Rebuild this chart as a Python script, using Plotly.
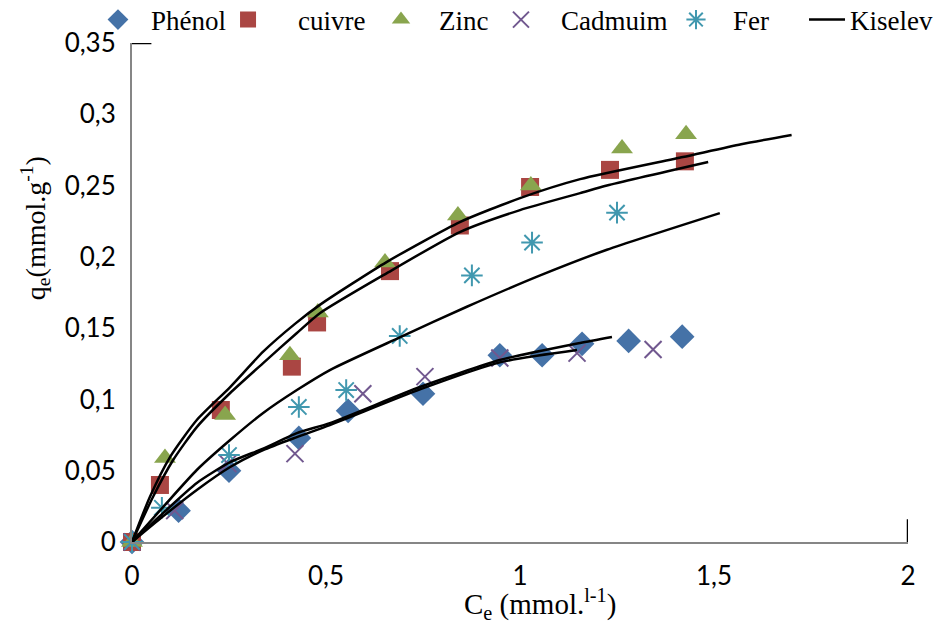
import plotly.graph_objects as go

# ---- experimental data ----
phenol_x = [0, 0.12, 0.25, 0.43, 0.557, 0.75, 0.948, 1.057, 1.16, 1.28, 1.418]
phenol_y = [0, 0.022, 0.05, 0.073, 0.092, 0.104, 0.131, 0.131, 0.139, 0.141, 0.144]

cuivre_x = [0, 0.072, 0.229, 0.412, 0.477, 0.665, 0.845, 1.026, 1.232, 1.425]
cuivre_y = [0, 0.040, 0.0926, 0.123, 0.154, 0.19, 0.222, 0.249, 0.261, 0.267]

zinc_x = [0, 0.085, 0.24, 0.407, 0.479, 0.652, 0.84, 1.028, 1.263, 1.428]
zinc_y = [0, 0.059, 0.089, 0.131, 0.161, 0.196, 0.229, 0.25, 0.276, 0.286]

cadmium_x = [0, 0.11, 0.247, 0.42, 0.595, 0.755, 0.948, 1.147, 1.343]
cadmium_y = [0, 0.022, 0.055, 0.062, 0.104, 0.116, 0.129, 0.1325, 0.135]

fer_x = [0, 0.077, 0.25, 0.43, 0.552, 0.69, 0.876, 1.031, 1.25]
fer_y = [0, 0.024, 0.061, 0.0947, 0.1066, 0.1445, 0.187, 0.21, 0.231]

# ---- Kiselev model curves ----
kis_zn_x = [0, 0.046, 0.098, 0.167, 0.253, 0.338, 0.42, 0.485, 0.657, 0.845, 1.0, 1.155, 1.42, 1.57, 1.70]
kis_zn_y = [0, 0.0316, 0.0596, 0.0856, 0.1087, 0.1335, 0.153, 0.1665, 0.1965, 0.2244, 0.2412, 0.2545, 0.270, 0.279, 0.2855]

kis_cu_x = [0, 0.054, 0.106, 0.167, 0.253, 0.338, 0.425, 0.485, 0.657, 0.845, 1.0, 1.155, 1.224, 1.485]
kis_cu_y = [0, 0.0316, 0.0575, 0.0806, 0.1045, 0.1255, 0.1466, 0.1606, 0.1886, 0.2174, 0.2328, 0.2447, 0.250, 0.2665]

kis_fe_x = [0, 0.08, 0.167, 0.253, 0.338, 0.425, 0.51, 0.69, 0.863, 1.052, 1.224, 1.515]
kis_fe_y = [0, 0.0245, 0.0505, 0.0715, 0.0905, 0.1066, 0.1206, 0.1435, 0.165, 0.187, 0.205, 0.2307]

kis_ph_x = [0, 0.08, 0.167, 0.253, 0.338, 0.425, 0.51, 0.742, 0.948, 1.155, 1.237]
kis_ph_y = [0, 0.0203, 0.0414, 0.056, 0.0655, 0.0764, 0.0834, 0.1087, 0.1276, 0.1396, 0.1438]

kis_cd_x = [0, 0.08, 0.167, 0.253, 0.338, 0.425, 0.51, 0.742, 0.948, 1.147]
kis_cd_y = [0, 0.018, 0.0365, 0.0526, 0.0645, 0.0736, 0.082, 0.107, 0.126, 0.1346]

x_tickvals = [0, 0.5, 1, 1.5, 2]
x_ticktext = ["0", "0,5", "1", "1,5", "2"]
y_tickvals = [0, 0.05, 0.1, 0.15, 0.2, 0.25, 0.3, 0.35]
y_ticktext = ["0", "0,05", "0,1", "0,15", "0,2", "0,25", "0,3", "0,35"]

fig = go.Figure()

def scatter(x, y, name, symbol, color, size, legend, line_w=0):
    mk = dict(symbol=symbol, color=color, size=size)
    mk["line"] = dict(color=color, width=line_w) if line_w else dict(width=0)
    fig.add_trace(go.Scatter(x=x, y=y, mode="markers", name=name, marker=mk,
                             cliponaxis=False, legend=legend))

scatter(phenol_x, phenol_y, "Phénol", "diamond", "#4572A7", 19, "legend")
scatter(cuivre_x, cuivre_y, "cuivre", "square", "#AA4643", 18, "legend2")
scatter(zinc_x, zinc_y, "Zinc", "triangle-up", "#89A54E", 19, "legend3")
scatter(cadmium_x, cadmium_y, "Cadmuim", "x-thin-open", "#71588F", 17, "legend4", 2)
scatter(fer_x, fer_y, "Fer", "asterisk-open", "#4198AF", 18, "legend5", 2)

curves = [(kis_zn_x, kis_zn_y), (kis_cu_x, kis_cu_y), (kis_fe_x, kis_fe_y),
          (kis_ph_x, kis_ph_y), (kis_cd_x, kis_cd_y)]
for i, (cx, cy) in enumerate(curves):
    fig.add_trace(go.Scatter(x=cx, y=cy, mode="lines", name="Kiselev",
                             line=dict(color="black", width=2.5, shape="spline", smoothing=0.6),
                             legendgroup="kis", showlegend=(i == 0), legend="legend6"))

# small stray line segments seen in the original
fig.add_shape(type="line", x0=0, x1=0.05, y0=0.35, y1=0.35, line=dict(color="black", width=2.5))
fig.add_shape(type="line", x0=2, x1=2, y0=0, y1=0.016, line=dict(color="black", width=2.5))

leg_font = dict(family="Liberation Serif", size=27, color="black")
def leg(x, iw):
    return dict(orientation="h", x=x, xanchor="left", y=1.046, yanchor="middle",
                font=leg_font, bgcolor="rgba(0,0,0,0)", itemwidth=iw)

fig.update_layout(
    width=935, height=626,
    margin=dict(l=132, r=27, t=43, b=84, autoexpand=False),
    paper_bgcolor="white", plot_bgcolor="white",
    font=dict(family="Lato", size=26, color="black"),
    showlegend=True,
    legend=leg(-0.0606, 56),
    legend2=leg(0.0851, 90),
    legend3=leg(0.2977, 66),
    legend4=leg(0.4497, 70),
    legend5=leg(0.6791, 64),
    legend6=leg(0.866, 36),
    xaxis=dict(range=[0, 2], tickvals=x_tickvals, ticktext=x_ticktext,
               showgrid=False, zeroline=False, showline=True, linecolor="#868686", linewidth=2,
               ticks="", ticklabelstandoff=10),
    yaxis=dict(range=[0, 0.35], tickvals=y_tickvals, ticktext=y_ticktext,
               showgrid=False, zeroline=False, showline=True, linecolor="#868686", linewidth=2,
               ticks="", ticklabelstandoff=9),
    annotations=[
        dict(text="C<sub>e</sub> (mmol.<sup>l-1</sup>)", xref="paper", yref="paper",
             x=0.526, y=-0.124, xanchor="center", yanchor="middle", showarrow=False,
             font=dict(family="Liberation Serif", size=29, color="black")),
        dict(text="q<sub>e</sub>(mmol.g<sup>-1</sup>)", xref="paper", yref="paper",
             x=-0.125, y=0.629, xanchor="center", yanchor="middle", showarrow=False,
             textangle=-90, font=dict(family="Liberation Serif", size=28, color="black")),
    ],
)

fig.write_html("out.html")
